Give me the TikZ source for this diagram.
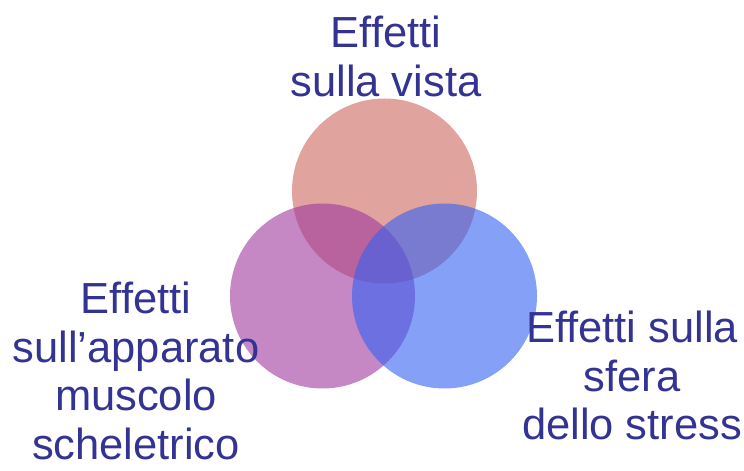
\documentclass[tikz,border=0pt]{standalone}
\usepackage{fontspec}
\setmainfont{Liberation Sans}
\usetikzlibrary{positioning}
\tikzset{venn/.style = {circle, inner sep = 0, minimum size = 185, fill opacity = 0.6, text opacity = 1}}
\tikzset{lbl/.style = {align = center, inner sep = 0, anchor = north, text = mblue, font = \fontsize{43.5}{48.5}\selectfont}}
\definecolor{mblue}{rgb}{0.2, 0.2, 0.58}
\definecolor{vrose}{rgb}{0.80, 0.40, 0.36}
\definecolor{vplum}{rgb}{0.62, 0.22, 0.62}
\definecolor{vsky}{rgb}{0.20, 0.38, 0.95}

\begin{document}
\begin{tikzpicture}[x = 1pt, y = 1pt]
    \useasboundingbox (0, 0) rectangle (744, 471);

    \node [venn, fill = vrose] (vista) at (384.5, 280) {};
    \node [venn, fill = vplum] (muscolo) at (322.5, 175) {};
    \node [venn, fill = vsky] (stress) at (444.5, 175) {};

    \node [lbl] (tvista) at (386, 455) {Effetti\\sulla vista};
    \node [lbl] (tmuscolo) at (136, 189) {Effetti\\sull’apparato\\muscolo\\scheletrico};
    \node [lbl] (tstress) at (632, 160) {Effetti sulla\\sfera\\dello stress};
  \end{tikzpicture}
\end{document}
